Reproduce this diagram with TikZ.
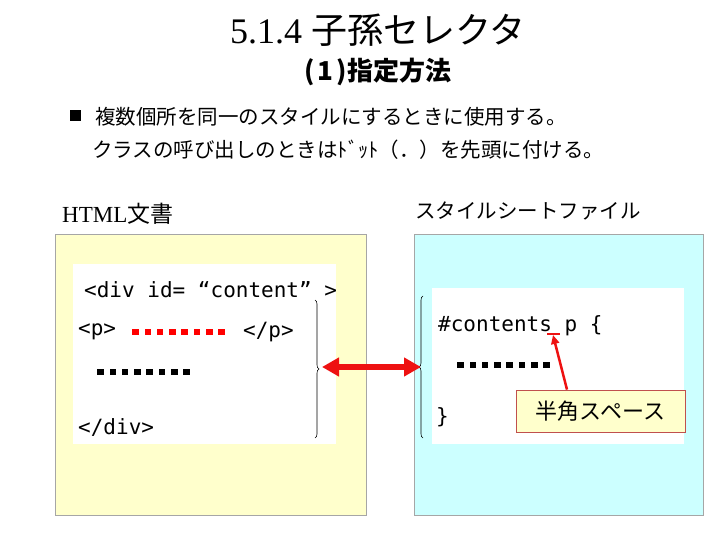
\documentclass[tikz,border=0pt]{standalone}
\usepackage{fontspec}
\setmainfont{Liberation Serif}
\newfontfamily\jp{Noto Sans CJK JP}
\newfontfamily\code{DejaVu Sans Mono}
\usetikzlibrary{arrows.meta,decorations.pathreplacing}
\definecolor{paleyellow}{HTML}{FFFFCC}
\definecolor{paleblue}{HTML}{CCFFFF}
\definecolor{boxgray}{HTML}{A6A6A6}
\definecolor{calloutred}{HTML}{C0504D}
\definecolor{arrowred}{HTML}{EE1111}
\tikzset{
  panel/.style={draw=boxgray, line width=0.8pt},
  codebox/.style={fill=white, draw=none},
  codetext/.style={anchor=west, inner sep=0pt, font=\code\fontsize{21}{24}\selectfont},
  jptext/.style={anchor=west, inner sep=0pt, font=\jp\fontsize{20.5}{24}\selectfont},
  bracestyle/.style={decorate, decoration={brace, amplitude=4pt}, line width=0.6pt},
  dotsq/.style={minimum width=6.5pt, minimum height=6.5pt, inner sep=0pt, draw=none}
}
\begin{document}
\begin{tikzpicture}[x=1pt,y=-1pt]
\useasboundingbox (0,0) rectangle (720,540);
% titles
\node[font=\fontsize{36}{40}\selectfont, inner sep=0pt] (title) at (378,30) {5.1.4 {\jp 子孫セレクタ}};
\node[font=\jp\bfseries\fontsize{26}{30}\selectfont, inner sep=0pt] (sub) at (378,72) {(\hspace{3pt}1\hspace{3pt})\hspace{1pt}指定方法};
% bullet text
\node[fill=black, minimum size=11pt, inner sep=0pt] (bullet) at (75,116) {};
\node[jptext] (l1) at (95,117) {複数個所を同一のスタイルにするときに使用する。};
\node[jptext] (l2) at (92,150) {クラスの呼び出しのときはﾄﾞｯﾄ（．）を先頭に付ける。};
% headings
\node[anchor=west, inner sep=0pt, font=\fontsize{23}{26}\selectfont] (hhtml) at (62,214) {HTML{\jp 文書}};
\node[jptext] (hcss) at (415,211) {スタイルシートファイル};
% panels
\filldraw[panel, fill=paleyellow] (55,234) rectangle (366,515);
\filldraw[panel, fill=paleblue] (414,234) rectangle (703,515);
\fill[codebox] (73,264) rectangle (336,444);
\fill[codebox] (432,288) rectangle (684,444);
% html code
\node[codetext] (div) at (84,290) {<div id= “content” >};
\node[codetext] (p1) at (78,332) {<p>};
\node[codetext] (p2) at (243,332) {</p>};
\node[codetext] (div2) at (78,427) {</div>};
\foreach \i in {0,...,7} {
  \node[dotsq, fill=red] (rd\i) at (135.5+12.3*\i,332) {};
  \node[dotsq, fill=black] (bd\i) at (100.5+12.3*\i,372) {};
  \node[dotsq, fill=black] (cd\i) at (460.5+12.3*\i,365) {};
}
% css code
\node[codetext] (sel) at (438,326) {\#contents p \{};
\node[codetext] (close) at (436,417) {\}};
% braces
\draw[bracestyle] (315,300) -- (315,438);
\draw[bracestyle] (423,438) -- (423,296);
\coordinate (htmltip) at (322,367);
\coordinate (csstip) at (421,367);
\draw[arrowred, line width=6.5pt, {Triangle[length=17pt,width=18pt]}-{Triangle[length=17pt,width=18pt]}] (htmltip) -- (csstip);
% callout
\node[draw=calloutred, fill=paleyellow, line width=0.8pt, minimum width=169pt, minimum height=42pt, inner sep=0pt, font=\jp\fontsize{22}{26}\selectfont] (callout) at (600.5,411) {半角スペース};
\coordinate (spacept) at (553,335);
\draw[arrowred, line width=2pt] (547,334) -- (560,334);
\draw[arrowred, line width=2.5pt, -{Triangle[length=9pt,width=8pt]}] (callout.north -| 567,0) -- (spacept);
\end{tikzpicture}
\end{document}
